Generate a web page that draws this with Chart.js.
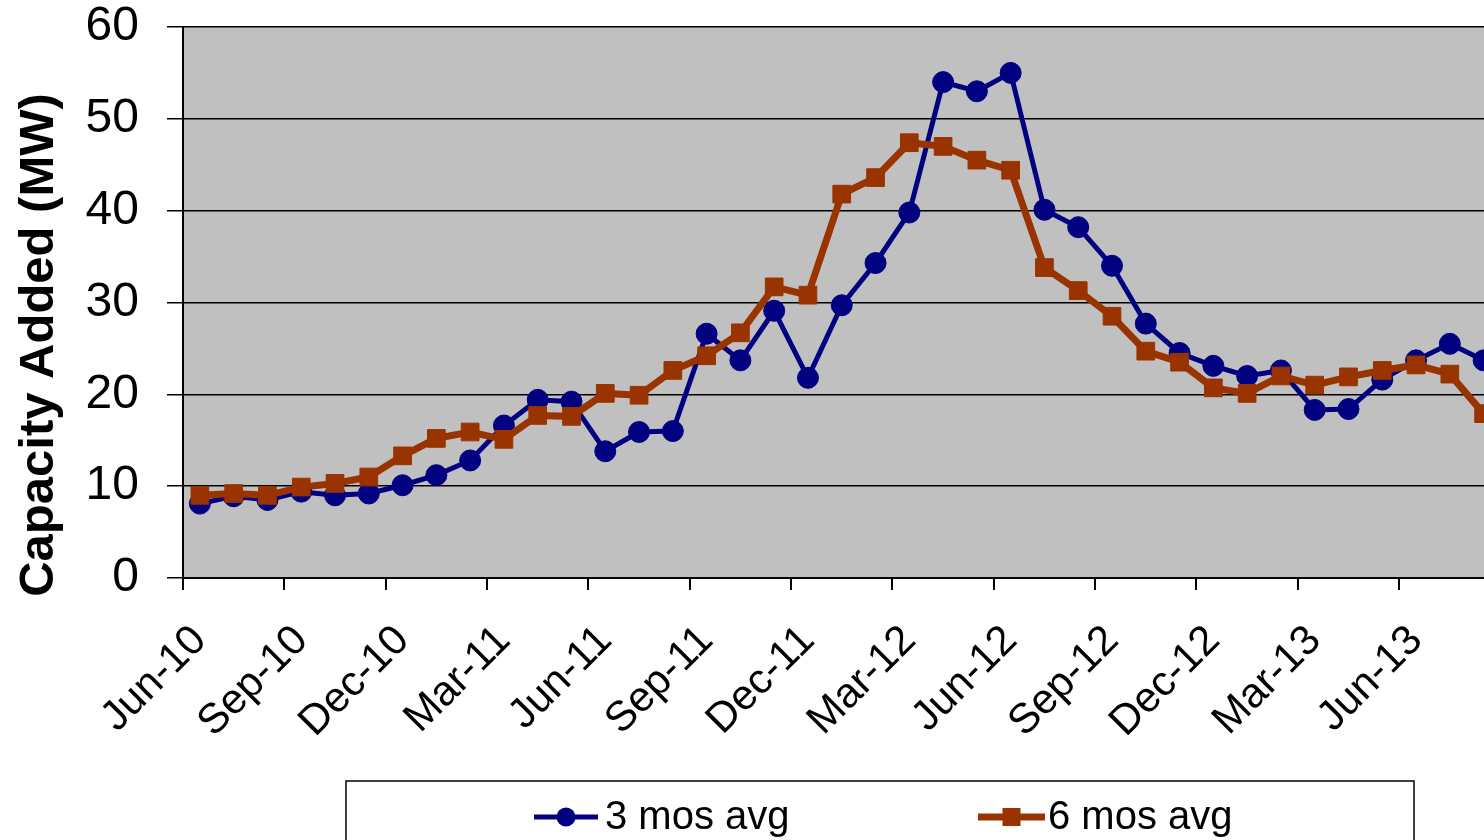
<!DOCTYPE html>
<html lang="en">
<head>
<meta charset="UTF-8">
<title>Capacity Added (MW)</title>
<script src="https://cdn.jsdelivr.net/npm/chart.js"></script>
<style>
  html, body { margin: 0; padding: 0; background: #fff; overflow: hidden; }
  #wrap { width: 1514px; height: 840px; }
</style>
</head>
<body>
<div id="wrap"><canvas id="capChart" width="1514" height="840"></canvas></div>
<script>
// months on the x axis (one category per month)
const months = [
  'Jun-10', 'Jul-10', 'Aug-10', 'Sep-10', 'Oct-10', 'Nov-10', 'Dec-10', 'Jan-11', 'Feb-11', 'Mar-11',
  'Apr-11', 'May-11', 'Jun-11', 'Jul-11', 'Aug-11', 'Sep-11', 'Oct-11', 'Nov-11', 'Dec-11', 'Jan-12',
  'Feb-12', 'Mar-12', 'Apr-12', 'May-12', 'Jun-12', 'Jul-12', 'Aug-12', 'Sep-12', 'Oct-12', 'Nov-12',
  'Dec-12', 'Jan-13', 'Feb-13', 'Mar-13', 'Apr-13', 'May-13', 'Jun-13', 'Jul-13', 'Aug-13'
];

// 3 month moving average (MW)
const avg3 = [
  8.1, 8.9, 8.5, 9.4, 9.0, 9.2, 10.1, 11.2, 12.8, 16.6,
  19.4, 19.2, 13.8, 15.9, 16.0, 26.6, 23.7, 29.1, 21.8, 29.7,
  34.3, 39.8, 54.0, 53.0, 55.0, 40.1, 38.2, 34.0, 27.7, 24.5,
  23.1, 22.0, 22.6, 18.3, 18.4, 21.6, 23.7, 25.5, 23.7
];

// 6 month moving average (MW)
const avg6 = [
  9.0, 9.2, 9.0, 9.9, 10.3, 11.0, 13.3, 15.2, 15.9, 15.1,
  17.7, 17.6, 20.1, 19.9, 22.6, 24.2, 26.7, 31.7, 30.8, 41.8,
  43.6, 47.4, 47.0, 45.5, 44.4, 33.8, 31.3, 28.5, 24.7, 23.5,
  20.7, 20.1, 22.0, 21.0, 21.9, 22.6, 23.2, 22.2, 17.9
];

const seriesNames = ['3 mos avg', '6 mos avg'];
const seriesColors = ['#000080', '#993300'];
const yTitle = 'Capacity Added (MW)';

const FONT = 'Arial, "Liberation Sans", sans-serif';

// grey plot area like the old excel charts
const plotBg = {
  id: 'plotBg',
  beforeDraw(chart) {
    const { ctx, chartArea: a } = chart;
    ctx.save();
    ctx.fillStyle = '#c0c0c0';
    ctx.fillRect(a.left, a.top, a.right - a.left, a.bottom - a.top);
    ctx.restore();
  }
};

// y title + boxed legend with line and marker
const extras = {
  id: 'extras',
  afterDraw(chart) {
    const ctx = chart.ctx;
    ctx.save();
    ctx.translate(39, 345);
    ctx.rotate(-Math.PI / 2);
    ctx.font = 'bold 49px ' + FONT;
    ctx.fillStyle = '#000';
    ctx.textAlign = 'center';
    ctx.textBaseline = 'middle';
    ctx.fillText(yTitle, 0, 0);
    ctx.restore();

    ctx.save();
    ctx.strokeStyle = '#000';
    ctx.lineWidth = 1.5;
    ctx.strokeRect(346, 781, 1068, 100);

    const items = [
      { x0: 534, x1: 598, tx: 605 },
      { x0: 978, x1: 1045, tx: 1048 }
    ];
    const ly = 817;
    chart.data.datasets.forEach((ds, i) => {
      const it = items[i];
      ctx.strokeStyle = ds.borderColor;
      ctx.lineWidth = ds.borderWidth;
      ctx.beginPath();
      ctx.moveTo(it.x0, ly);
      ctx.lineTo(it.x1, ly);
      ctx.stroke();
      ctx.fillStyle = ds.backgroundColor;
      const cx = (it.x0 + it.x1) / 2;
      if (ds.pointStyle === 'rect') {
        ctx.fillRect(cx - 9, ly - 9, 18, 18);
      } else {
        ctx.beginPath();
        ctx.arc(cx, ly, 9.5, 0, Math.PI * 2);
        ctx.fill();
      }
      ctx.fillStyle = '#000';
      ctx.font = '40px ' + FONT;
      ctx.textAlign = 'left';
      ctx.textBaseline = 'middle';
      ctx.fillText(ds.label, it.tx, ly + 1);
    });
    ctx.restore();
  }
};

new Chart(document.getElementById('capChart').getContext('2d'), {
  type: 'line',
  data: {
    labels: months,
    datasets: [
      {
        label: seriesNames[0],
        data: avg3,
        borderColor: seriesColors[0],
        backgroundColor: seriesColors[0],
        borderWidth: 5,
        pointStyle: 'circle',
        pointRadius: 10.5,
        pointBorderWidth: 1,
        tension: 0,
        order: 2
      },
      {
        label: seriesNames[1],
        data: avg6,
        borderColor: seriesColors[1],
        backgroundColor: seriesColors[1],
        borderWidth: 7,
        pointStyle: 'rect',
        pointRadius: 12.5,
        pointBorderWidth: 1,
        tension: 0,
        order: 1
      }
    ]
  },
  options: {
    responsive: false,
    animation: false,
    layout: { padding: 0 },
    plugins: {
      legend: { display: false },
      tooltip: { enabled: false }
    },
    scales: {
      x: {
        offset: true,
        grid: {
          offset: true,
          drawOnChartArea: false,
          drawTicks: true,
          tickLength: 12,
          lineWidth: 2,
          color: c => (c.index % 3 === 0 ? '#000' : 'rgba(0,0,0,0)')
        },
        border: { display: true, color: '#000', width: 2 },
        ticks: {
          autoSkip: false,
          minRotation: 45,
          maxRotation: 45,
          padding: 26,
          color: '#000',
          font: { family: FONT, size: 42 },
          callback: function (v, i) { return i % 3 === 0 ? this.getLabelForValue(v) : ''; }
        },
        afterFit: s => { s.height = 262; s.paddingLeft = 0; s.paddingRight = 0; }
      },
      y: {
        min: 0,
        max: 60,
        grid: { color: '#000', lineWidth: 1.5, tickLength: 16 },
        border: { display: true, color: '#000', width: 2 },
        ticks: {
          stepSize: 10,
          padding: 28,
          color: '#000',
          font: { family: FONT, size: 48, lineHeight: 0 }
        },
        afterFit: s => { s.width = 183; s.paddingTop = 27; s.paddingBottom = 0; }
      }
    }
  },
  plugins: [plotBg, extras]
});
</script>
</body>
</html>
